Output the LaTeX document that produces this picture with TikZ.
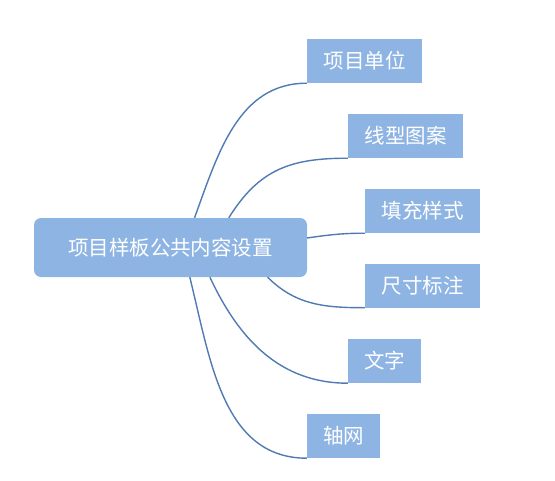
\documentclass[tikz,border=0pt]{standalone}
\usepackage{fontspec}
\setmainfont{Noto Sans CJK SC}
\usepackage{tikz}
\usetikzlibrary{positioning}
\usepackage{xcolor}
\definecolor{boxblue}{HTML}{8EB4E3}
\definecolor{linkblue}{HTML}{4F7AB3}

\begin{document}
\begin{tikzpicture}[x=1pt,y=-1pt,
  hubbox/.style={fill=boxblue,rounded corners=7pt,text=white,font=\fontsize{20.5}{24}\selectfont,minimum width=273pt,minimum height=59pt,inner sep=0pt},
  leaf/.style={fill=boxblue,text=white,font=\fontsize{20.5}{24}\selectfont,minimum height=44pt,inner sep=0pt},
  branch/.style={draw=linkblue,line width=1.4pt}]
\useasboundingbox (0,0) rectangle (555,480);
\node[hubbox] (hub) at (170.5,247.5) {项目样板公共内容设置};
\node[leaf,minimum width=115pt] (unit) at (364.5,61) {项目单位};
\node[leaf,minimum width=115pt] (ltype) at (405.5,136) {线型图案};
\node[leaf,minimum width=115pt] (hatch) at (422.5,211) {填充样式};
\node[leaf,minimum width=115pt] (dim) at (422.5,285.5) {尺寸标注};
\node[leaf,minimum width=73pt] (txt) at (384.5,361) {文字};
\node[leaf,minimum width=73pt] (grid) at (343.5,436) {轴网};
\draw[branch] (hub.51) to[out=70,in=180] (unit.south west);
\draw[branch] (hub.27) to[out=58,in=180,looseness=1.1] (ltype.south west);
\draw[branch] (hub.4) to[out=8,in=180] (hatch.south west);
\draw[branch] (hub.-17.5) to[out=-45,in=180] (dim.south west);
\draw[branch] (hub.-37.7) to[out=-65,in=180] (txt.south west);
\draw[branch] (hub.-57.4) to[out=-76,in=180] (grid.south west);
\end{tikzpicture}
\end{document}
